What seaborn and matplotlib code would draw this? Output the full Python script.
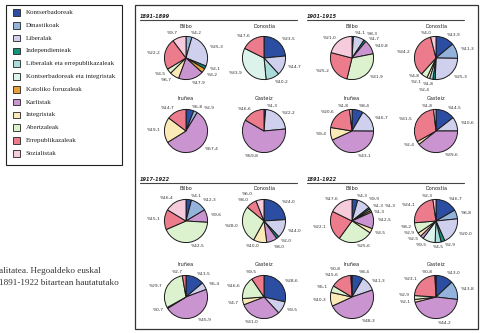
import matplotlib
matplotlib.use("Agg")
import numpy as np
import matplotlib.pyplot as plt
import seaborn as sns
from matplotlib.patches import Rectangle

sns.set_theme(style="white")
plt.rcParams['font.family'] = ['DejaVu Sans']

# ---------------- data ----------------
categories = ["Kontserbadoreak", "Dinastikoak", "Liberalak", "Independienteak",
              "Liberalak eta errepublikazaleak", "Kontserbadoreak eta integristak",
              "Katoliko foruzaleak", "Karlistak", "Integristak", "Abertzaleak",
              "Errepublikazaleak", "Sozialistak"]
colors_hex = ["#2b4ea2", "#93b3dc", "#cfcfee", "#13937a", "#a9dbdb", "#dcf3ec",
              "#e8a13a", "#c994cf", "#fbe9b7", "#dcf2cf", "#ec7b8c", "#f6cbdc"]
cities = ["Bilbo", "Donostia", "Iruñea", "Gasteiz"]
periods = ["1891-1899", "1901-1915", "1917-1922", "1891-1922"]

bilbo_1891_1899 = [0, 4.2, 25.3, 2.1, 0, 0, 3.2, 17.9, 6.7, 3.5, 22.2, 9.7]
donostia_1891_1899 = [23.5, 0, 14.7, 0, 10.2, 33.9, 0, 0, 0, 0, 17.6, 0]
irunea_1891_1899 = [5.8, 2.9, 0, 0, 0, 0, 0, 57.4, 19.1, 0, 14.7, 0]
gasteiz_1891_1899 = [1.3, 0, 22.2, 0, 0, 0, 0, 59.8, 0, 0, 16.6, 0]

bilbo_1901_1915 = [1.1, 0, 8.3, 1.7, 0, 0, 0, 10.8, 0, 31.9, 25.2, 21.0]
donostia_1901_1915 = [13.9, 11.3, 25.3, 1.8, 2.4, 0, 0, 0, 2.1, 4.8, 34.2, 4.0]
irunea_1901_1915 = [8.4, 0, 16.7, 0, 0, 0, 0, 43.1, 9.4, 0, 20.6, 1.8]
gasteiz_1901_1915 = [14.5, 0, 10.6, 0, 0, 0, 0, 39.6, 2.4, 0, 31.5, 1.8]

bilbo_1917_1922 = [4.1, 12.3, 0, 0, 0, 0, 0, 9.6, 0, 42.5, 15.1, 16.4]
donostia_1917_1922 = [24.0, 0, 14.0, 2.0, 0, 0, 0, 8.0, 10.0, 28.0, 8.0, 6.0]
irunea_1917_1922 = [13.5, 0, 5.4, 0, 0, 0, 0, 45.9, 0.7, 29.7, 2.7, 0]
gasteiz_1917_1922 = [28.6, 0, 9.5, 0, 0, 0, 0, 31.0, 4.7, 16.6, 9.5, 0]

bilbo_1891_1922 = [4.3, 0, 9.9, 1.3, 1.3, 0, 1.3, 12.5, 3.5, 25.6, 22.1, 17.6]
donostia_1891_1922 = [16.7, 6.8, 20.0, 2.9, 4.5, 9.5, 0, 2.5, 2.9, 8.2, 24.1, 2.3]
irunea_1891_1922 = [8.4, 0, 11.3, 0, 0, 0, 0, 48.3, 10.3, 5.1, 15.6, 0.8]
gasteiz_1891_1922 = [13.0, 13.8, 0, 0, 0, 0, 0, 44.2, 2.1, 2.9, 23.1, 0.8]

panel_data = {
    "1891-1899": [bilbo_1891_1899, donostia_1891_1899, irunea_1891_1899, gasteiz_1891_1899],
    "1901-1915": [bilbo_1901_1915, donostia_1901_1915, irunea_1901_1915, gasteiz_1901_1915],
    "1917-1922": [bilbo_1917_1922, donostia_1917_1922, irunea_1917_1922, gasteiz_1917_1922],
    "1891-1922": [bilbo_1891_1922, donostia_1891_1922, irunea_1891_1922, gasteiz_1891_1922],
}
caption_lines = ["alitatea. Hegoaldeko euskal", "1891-1922 bitartean hautatutako"]

# ---------------- layout ----------------
W, H = 487, 333
fig = plt.figure(figsize=(W / 100, H / 100), dpi=100)
fig.patch.set_facecolor("white")
bg = fig.add_axes([0, 0, 1, 1])
bg.set_xlim(0, W)
bg.set_ylim(H, 0)
bg.axis("off")

palette = sns.color_palette(colors_hex)
serif = ["Liberation Serif", "DejaVu Serif"]

# legend box
bg.add_patch(Rectangle((6, 5), 116, 160, fill=False, edgecolor="#222222", lw=0.8))
for i, (cat, col) in enumerate(zip(categories, palette)):
    y = 12.5 + i * 12.8
    bg.add_patch(Rectangle((13, y - 3.3), 6.6, 6.6, facecolor=col, edgecolor="#222222", lw=0.6))
    bg.text(26, y, cat, fontsize=5, family=serif, va="center", ha="left", color="#222222")

# caption (cut-off text from the page)
for i, line in enumerate(caption_lines):
    bg.text(-1, 271 + i * 12, line, fontsize=6.6, family=serif, va="center", ha="left",
            color="#333333")

# outer box of the figure
bg.add_patch(Rectangle((135, 5), 343, 324, fill=False, edgecolor="#333333", lw=0.9))

panel_origin = {"1891-1899": (140, 0), "1901-1915": (307, 0),
                "1917-1922": (140, 163), "1891-1922": (307, 163)}
pie_offsets_left = [(46, 58), (124, 58), (46, 131), (124, 131)]
pie_offsets_right = [(45, 58), (129, 58), (45, 131), (129, 131)]
pie_offsets_bottom_shift = [0, 0, 3, 3]
title_dy = -32
R = 22


def fmt(v):
    return ("%" + f"{v:.1f}").replace(".", ",")


# label placement helpers (pie data units, radius = 1)
CW, CH = 0.13, 0.25
_cands = [(dx, dy) for dx in np.arange(-1.0, 1.01, 0.05) for dy in np.arange(-1.0, 1.01, 0.05)]
_cands.sort(key=lambda c: c[0] ** 2 + (c[1] * 1.3) ** 2)
TITLE_BOX = (-0.5, 1.3, 0.5, 1.65)


def _box(x, y, txt, ha):
    w = CW * len(txt)
    x0 = x if ha == "left" else (x - w if ha == "right" else x - w / 2)
    return (x0, y - CH / 2, x0 + w, y + CH / 2)


def _overlap(a, b):
    return a[0] < b[2] and b[0] < a[2] and a[1] < b[3] and b[1] < a[3]


def _hits_circle(b, r=1.03):
    nx = min(max(0.0, b[0]), b[2])
    ny = min(max(0.0, b[1]), b[3])
    return nx * nx + ny * ny < r * r


def place_labels(texts):
    placed = [TITLE_BOX]
    for t in texts:
        x, y = t.get_position()
        ha = t.get_ha()
        txt = t.get_text()
        for dx, dy in _cands:
            b = _box(x + dx, y + dy, txt, ha)
            if _hits_circle(b):
                continue
            if any(_overlap(b, p) for p in placed):
                continue
            t.set_position((x + dx, y + dy))
            placed.append(b)
            break
        else:
            placed.append(_box(x, y, txt, ha))


for period in periods:
    ox, oy = panel_origin[period]
    bg.text(ox, oy + 16.5, period, fontsize=3.6, fontweight="bold", style="italic",
            va="center", ha="left", color="#222222")
    bg.plot([ox, ox + 157], [oy + 20, oy + 20], color="#444444", lw=0.8)
    offsets = pie_offsets_left if ox < 200 else pie_offsets_right
    for k, city in enumerate(cities):
        vals = panel_data[period][k]
        px, py = offsets[k]
        cx = ox + px
        cy = oy + py + (pie_offsets_bottom_shift[k] if oy > 0 else 0)
        bg.text(cx, cy + title_dy, city, fontsize=3.6, ha="center", va="center",
                color="#222222")
        sel = [(v, c) for v, c in zip(vals, palette) if v > 0]
        v_list = [s[0] for s in sel]
        c_list = [s[1] for s in sel]
        ax = fig.add_axes([(cx - R) / W, 1 - (cy + R) / H, 2 * R / W, 2 * R / H])
        wedges, texts = ax.pie(v_list, colors=c_list, startangle=90, counterclock=False,
                               labels=[fmt(v) for v in v_list], labeldistance=1.2,
                               wedgeprops=dict(edgecolor="#1a1a1a", linewidth=0.7),
                               textprops=dict(fontsize=3.2, color="#333333"))
        place_labels(texts)
        ax.set_xlim(-1.02, 1.02)
        ax.set_ylim(-1.02, 1.02)
        ax.axis("off")

fig.savefig("out.png", dpi=100, facecolor="white")
